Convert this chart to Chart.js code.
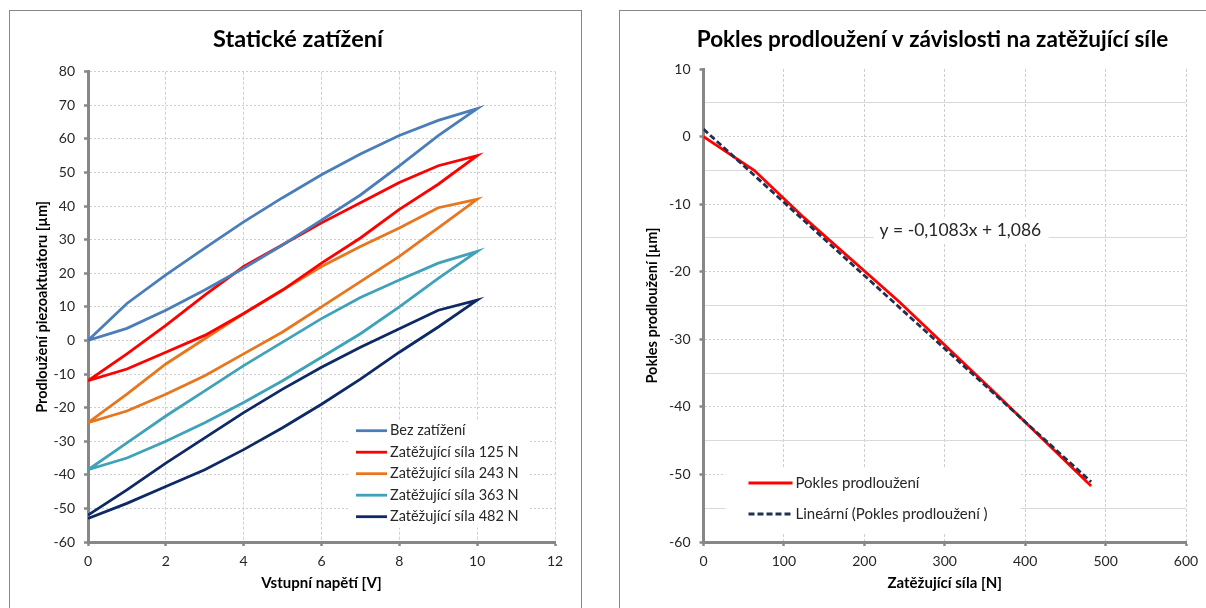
<!DOCTYPE html>
<html>
<head>
<meta charset="utf-8">
<script src="https://cdn.jsdelivr.net/npm/chart.js@4.4.1/dist/chart.umd.min.js"></script>
<style>
body { margin: 0; background: #fff; width: 1206px; height: 608px; overflow: hidden; }
.box { position: absolute; top: 10px; border: 1px solid #878787; background: #fff; }
#box1 { left: 9px; width: 571px; height: 620px; }
#box2 { left: 619px; width: 620px; height: 620px; }
canvas { display: block; }
</style>
</head>
<body>
<div class="box" id="box1"><canvas id="statickeZatizeni" width="571" height="597"></canvas></div>
<div class="box" id="box2"><canvas id="poklesProdlouzeni" width="598" height="597"></canvas></div>
<script>
// vstupni napeti [V]
var napeti = [0, 1, 2, 3, 4, 5, 6, 7, 8, 9, 10];

// prodlouzeni [um], vzestupna vetev (0 -> 10 V) a sestupna (10 -> 0 V)
var bezZatizeniNahoru = [0, 3.6, 9, 15, 21.5, 28.4, 35.8, 43.3, 52, 61, 69];
var bezZatizeniDolu = [69, 65.5, 61, 55.5, 49.3, 42.5, 35.3, 27.5, 19.5, 11, 0];
var sila125Nahoru = [-12, -8.5, -3.5, 1.5, 8, 15, 23, 30.5, 39, 46.5, 55];
var sila125Dolu = [55, 52, 47, 41, 35, 28.5, 22, 13.5, 4.5, -4, -12];
var sila243Nahoru = [-24.5, -21, -16, -10.5, -4, 2.5, 10, 17.5, 25, 33.5, 42];
var sila243Dolu = [42, 39.5, 33.5, 28, 22, 15, 8, 0.5, -7, -16, -24.5];
var sila363Nahoru = [-38.5, -35, -30, -24.5, -18.5, -12, -5, 2, 10, 18.5, 26.5];
var sila363Dolu = [26.5, 23, 18, 12.8, 6.5, -0.5, -7.5, -15, -22.5, -30.5, -38.5];
var sila482Nahoru = [-53, -48.5, -43.5, -38.5, -32.5, -26, -19, -11.5, -3.5, 4, 12];
var sila482Dolu = [12, 9, 3.5, -2, -8, -14.5, -21.5, -29, -36.5, -44.5, -52];

var nazvySerii = ['Bez zatížení', 'Zatěžující síla 125 N', 'Zatěžující síla 243 N', 'Zatěžující síla 363 N', 'Zatěžující síla 482 N'];

// zatezujici sila [N] a pokles prodlouzeni [um]
var sila = [0, 63, 125, 243, 363, 482];
var pokles = [0, -5, -12, -24.4, -38, -51.7];
// linearni trend
var trendSila = [0, 482];
var trendPokles = [1.1, -51.1];
var rovniceTrendu = 'y = -0,1083x + 1,086';

Chart.defaults.font.family = 'Lato';
Chart.defaults.color = '#262626';

function smycka(nahoru, dolu) {
    var body = [];
    napeti.forEach(function (u, i) {
        body.push({x: u, y: nahoru[i]});
    });
    napeti.slice().reverse().forEach(function (u, i) {
        body.push({x: u, y: dolu[i]});
    });
    return body;
}

function dvojice(xs, ys) {
    return xs.map(function (x, i) {
        return {x: x, y: ys[i]};
    });
}

function serie(label, data, color) {
    return {
        label: label,
        data: data,
        showLine: true,
        borderColor: color,
        backgroundColor: color,
        borderWidth: 2.8,
        pointRadius: 0,
        tension: 0
    };
}

// nadpis grafu (vystredeny na cely ramecek, ne jen na plochu grafu)
function nadpis(text, size, stred) {
    return {
        id: 'nadpis',
        afterDraw: function (chart) {
            var ctx = chart.ctx;
            ctx.save();
            ctx.font = 'bold ' + size + 'px Lato';
            ctx.fillStyle = '#000';
            ctx.textAlign = 'center';
            ctx.textBaseline = 'alphabetic';
            ctx.fillText(text, stred, 35.7);
            ctx.restore();
        }
    };
}

var legendaVlevo = {
    id: 'legendaVlevo',
    afterDraw: function (chart) {
        var ctx = chart.ctx;
        var a = chart.chartArea;
        ctx.save();
        ctx.fillStyle = '#fff';
        ctx.fillRect(a.left + 262, a.top + 348, 178, 108);
        ctx.font = '14.5px Lato';
        ctx.textBaseline = 'middle';
        chart.data.datasets.forEach(function (ds, i) {
            var y = a.top + 359 + i * 21.5;
            ctx.strokeStyle = ds.borderColor;
            ctx.lineWidth = 2.8;
            ctx.beginPath();
            ctx.moveTo(a.left + 268, y);
            ctx.lineTo(a.left + 299, y);
            ctx.stroke();
            ctx.fillStyle = '#262626';
            ctx.fillText(ds.label, a.left + 302, y);
        });
        ctx.restore();
    }
};

var legendaVpravo = {
    id: 'legendaVpravo',
    afterDraw: function (chart) {
        var ctx = chart.ctx;
        var a = chart.chartArea;
        ctx.save();
        ctx.fillStyle = '#fff';
        ctx.fillRect(a.left + 22, a.top + 398, 295, 65);
        ctx.fillRect(a.left + 170, a.top + 150, 175, 23);
        ctx.font = '15px Lato';
        ctx.textBaseline = 'middle';
        var poradi = [1, 0];
        poradi.forEach(function (idx, i) {
            var ds = chart.data.datasets[idx];
            var y = a.top + 414 + i * 31;
            ctx.strokeStyle = ds.borderColor;
            ctx.lineWidth = 2.8;
            ctx.setLineDash(ds.borderDash || []);
            ctx.beginPath();
            ctx.moveTo(a.left + 45, y);
            ctx.lineTo(a.left + 89, y);
            ctx.stroke();
            ctx.setLineDash([]);
            ctx.fillStyle = '#262626';
            ctx.fillText(ds.label, a.left + 92, y);
        });
        ctx.font = '17.5px Lato';
        ctx.fillText(rovniceTrendu, a.left + 176, a.top + 161);
        ctx.restore();
    }
};

var mrizka = '#CFCFCF';
var osa = '#878787';

new Chart(document.getElementById('statickeZatizeni'), {
    type: 'scatter',
    data: {
        datasets: [
            serie(nazvySerii[0], smycka(bezZatizeniNahoru, bezZatizeniDolu), '#4A7EBB'),
            serie(nazvySerii[1], smycka(sila125Nahoru, sila125Dolu), '#FF0000'),
            serie(nazvySerii[2], smycka(sila243Nahoru, sila243Dolu), '#E8761E'),
            serie(nazvySerii[3], smycka(sila363Nahoru, sila363Dolu), '#3FA2B8'),
            serie(nazvySerii[4], smycka(sila482Nahoru, sila482Dolu), '#0E2A66')
        ]
    },
    options: {
        responsive: false,
        animation: false,
        layout: {padding: {left: 0, right: 26, top: 60.7, bottom: 0}},
        plugins: {
            legend: {display: false},
            tooltip: {enabled: false},
            title: {display: false}
        },
        scales: {
            x: {
                type: 'linear',
                min: 0,
                max: 12,
                afterFit: function (s) { s.height = 66; },
                ticks: {stepSize: 2, padding: 7.3, font: {size: 14}},
                grid: {color: mrizka, tickColor: osa, tickLength: 4, tickWidth: 2.5},
                border: {color: osa, width: 3, dash: [3, 2]},
                title: {display: true, text: 'Vstupní napětí [V]', color: '#000', font: {size: 15, weight: 'bold'}, padding: {top: 0, bottom: 16}}
            },
            y: {
                min: -60,
                max: 80,
                afterFit: function (s) { s.width = 78; },
                ticks: {stepSize: 10, padding: 9, font: {size: 14}},
                grid: {color: mrizka, tickColor: osa, tickLength: 4, tickWidth: 2.5},
                border: {color: osa, width: 3, dash: [2, 2]},
                title: {display: true, text: 'Prodloužení piezoaktuátoru [µm]', color: '#000', font: {size: 14.5, weight: 'bold'}, padding: {top: 23.3, bottom: 0}}
            }
        }
    },
    plugins: [legendaVlevo, nadpis('Statické zatížení', 23.5, 288)]
});

var trend = serie('Lineární (Pokles prodloužení )', dvojice(trendSila, trendPokles), '#1F3050');
trend.borderDash = [6, 3];

new Chart(document.getElementById('poklesProdlouzeni'), {
    type: 'scatter',
    data: {
        datasets: [
            trend,
            serie('Pokles prodloužení', dvojice(sila, pokles), '#FF0000')
        ]
    },
    options: {
        responsive: false,
        animation: false,
        layout: {padding: {left: 0, right: 32, top: 58, bottom: 0}},
        plugins: {
            legend: {display: false},
            tooltip: {enabled: false},
            title: {display: false}
        },
        scales: {
            x: {
                type: 'linear',
                min: 0,
                max: 600,
                afterFit: function (s) { s.height = 66; },
                ticks: {stepSize: 100, padding: 7.3, font: {size: 14}},
                grid: {color: mrizka, tickColor: osa, tickLength: 4, tickWidth: 2.5},
                border: {color: osa, width: 3, dash: [3, 2]},
                title: {display: true, text: 'Zatěžující síla [N]', color: '#000', font: {size: 15, weight: 'bold'}, padding: {top: 0, bottom: 16}}
            },
            y: {
                min: -60,
                max: 10,
                afterFit: function (s) { s.width = 83.5; },
                ticks: {
                    stepSize: 5,
                    padding: 9,
                    font: {size: 14},
                    callback: function (v) { return v % 10 === 0 ? v : ''; }
                },
                grid: {
                    color: function (c) {
                        if (c.tick && c.tick.value === 10) return 'rgba(0,0,0,0)';
                        return c.tick && c.tick.value % 10 === 0 ? mrizka : '#D9D9D9';
                    },
                    tickColor: function (c) {
                        return c.tick && c.tick.value % 10 === 0 ? osa : 'rgba(0,0,0,0)';
                    },
                    tickLength: 4,
                    tickWidth: 2.5
                },
                border: {
                    color: osa,
                    width: 3,
                    dash: function (c) {
                        return c.tick && c.tick.value % 10 === 0 ? [2, 2] : [];
                    }
                },
                title: {display: true, text: 'Pokles prodloužení [µm]', color: '#000', font: {size: 14.5, weight: 'bold'}, padding: {top: 23.3, bottom: 0}}
            }
        }
    },
    plugins: [legendaVpravo, nadpis('Pokles prodloužení v závislosti na zatěžující síle', 22.5, 312.5)]
});
</script>
</body>
</html>
